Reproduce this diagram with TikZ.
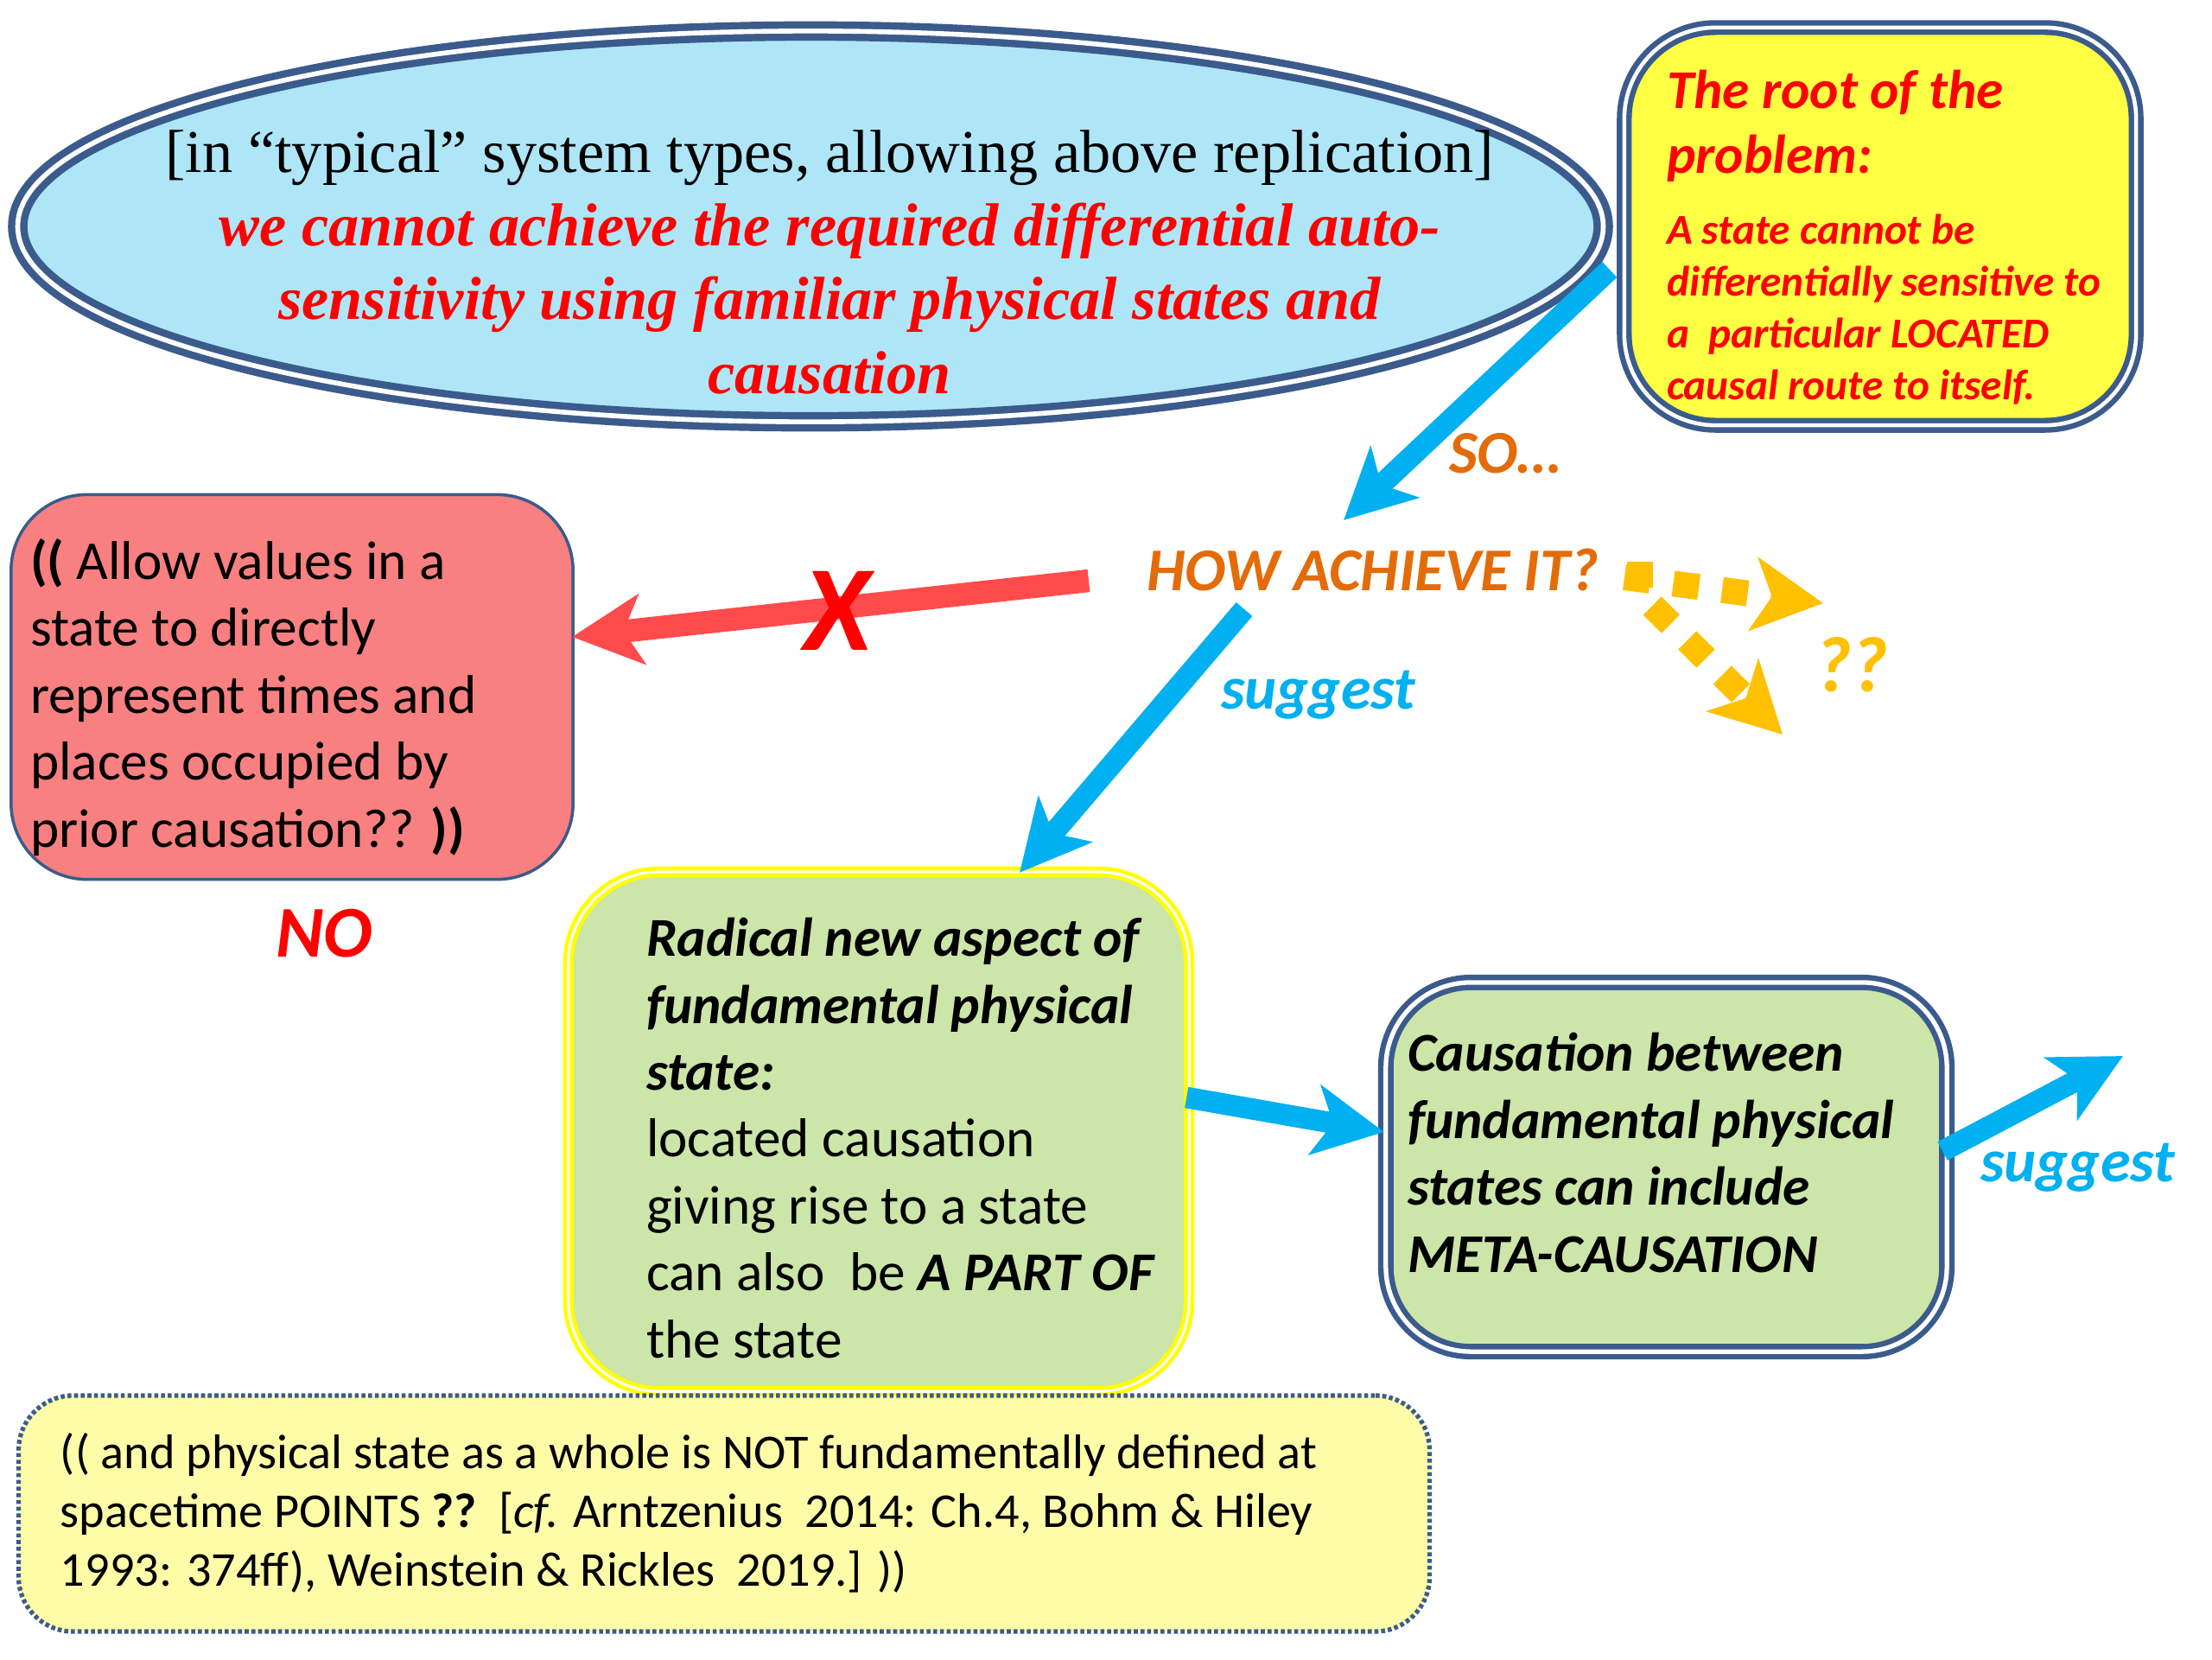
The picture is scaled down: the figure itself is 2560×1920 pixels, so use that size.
\documentclass[tikz,border=0pt]{standalone}
\usepackage{fontspec}
\setmainfont{Carlito}
\newfontfamily\tnr{Liberation Serif}
\usetikzlibrary{arrows.meta,shapes.geometric,calc}
\definecolor{bord}{HTML}{3B5B8C}
\definecolor{skyfill}{HTML}{AEE6F8}
\definecolor{yfill}{HTML}{FFFF44}
\definecolor{pinkfill}{HTML}{F88080}
\definecolor{redarr}{HTML}{FF4B4B}
\definecolor{gfill}{HTML}{CCE5A9}
\definecolor{bfill}{HTML}{FFFCA8}
\definecolor{bluearr}{HTML}{00B0F0}
\definecolor{orangetxt}{HTML}{E36C09}
\definecolor{gold}{HTML}{FFC000}
\definecolor{bright}{HTML}{FFFF00}
\newcommand{\redbi}[1]{{\color{red}\bfseries\itshape #1}}
\newcommand{\bi}[1]{\textbf{\textit{#1}}}
\begin{document}
\begin{tikzpicture}[x=0.01cm,y=-0.01cm,
  every node/.style={inner sep=0pt,outer sep=0pt},
  barrow/.style={draw=bluearr,line width=7pt,-{Stealth[length=23pt,width=23pt,inset=6pt]}},
  rarrow/.style={draw=redarr,line width=7.5pt,-{Stealth[length=23pt,width=23pt,inset=6pt]}},
  garrow/.style={draw=gold,line width=8.5pt,dash pattern=on 8.5pt off 7.7pt,-{Stealth[length=23pt,width=24pt,inset=6pt]}},
  txt/.style={anchor=base west,align=left},
  body/.style={font=\fontsize{18}{22}\selectfont},
  label/.style={anchor=base west,font=\fontsize{20}{24}\selectfont\bfseries\itshape},
]
\useasboundingbox (0,0) rectangle (2560,1920);

% ellipse
\node[ellipse,draw=bord,fill=skyfill,double=white,line width=2.4pt,double distance=1.6pt,
      minimum width=18.34cm,minimum height=4.52cm] (prob) at (938,262) {};
\node[anchor=base,align=center,font=\tnr\fontsize{20}{24.2}\selectfont] (probtxt) at (960,455)
  {[in “typical” system types, allowing above replication]\\
   \redbi{we cannot achieve the required differential auto-}\\
   \redbi{sensitivity using familiar physical states and}\\
   \redbi{causation}};

% root box
\node[rectangle,rounded corners=30pt,draw=bord,fill=yfill,double=white,line width=1.8pt,double distance=1.3pt,
      minimum width=5.92cm,minimum height=4.6cm] (root) at (2176,262) {};
\node[txt,text=red,font=\fontsize{18}{21.3}\selectfont\bfseries\itshape] (roottitle) at (1929,200)
  {The root of the\\problem:};
\node[txt,text=red,font=\fontsize{14}{17}\selectfont\bfseries\itshape] (roottext) at (1929,462)
  {A state cannot be\\differentially sensitive to\\a\ \ particular LOCATED\\causal route to itself.};

% pink box
\node[rectangle,rounded corners=25pt,draw=bord,line width=1pt,fill=pinkfill,
      minimum width=6.5cm,minimum height=4.45cm] (pink) at (338,795) {};
\node[txt,body] (pinktxt) at (35,980)
  {\textbf{((} Allow values in a\\state to directly\\represent times and\\places occupied by\\prior causation?? \textbf{))}};
\node[anchor=base west,text=red,font=\fontsize{24}{28}\selectfont\bfseries\itshape] (no) at (319,1107) {NO};

% green box 1
\node[rectangle,rounded corners=30pt,draw=bright,double=white,line width=1.3pt,double distance=0.9pt,fill=gfill,
      minimum width=7.18cm,minimum height=6.01cm] (g1) at (1017,1309.5) {};
\node[txt,body] (g1txt) at (748,1571)
  {\bi{Radical new aspect of}\\\bi{fundamental physical}\\\bi{state:}\\located causation\\giving rise to a state\\can also\ \ be \bi{A PART OF}\\the state};

% green box 2
\node[rectangle,rounded corners=28pt,draw=bord,double=white,line width=1.8pt,double distance=1.5pt,fill=gfill,
      minimum width=6.49cm,minimum height=4.27cm] (g2) at (1928.5,1350.5) {};
\node[txt,body,font=\fontsize{18}{22}\selectfont\bfseries\itshape] (g2txt) at (1629,1472)
  {Causation between\\fundamental physical\\states can include\\META-CAUSATION};

% bottom note
\node[rectangle,rounded corners=18pt,draw=bord,line width=1.5pt,dash pattern=on 1.3pt off 0.9pt,fill=bfill,
      minimum width=16.32cm,minimum height=2.73cm] (note) at (838,1751.5) {};
\node[txt,font=\fontsize{16}{19.2}\selectfont] (notetxt) at (70,1835)
  {(( and physical state as a whole is NOT fundamentally defined at\\
   spacetime POINTS \textbf{??}\ \ [\textit{cf.} Arntzenius\ \ 2014: Ch.4, Bohm \& Hiley\\
   1993: 374ff), Weinstein \& Rickles\ \ 2019.] ))};

% labels
\node[label,text=orangetxt] (how) at (1327,683) {HOW ACHIEVE IT?};
\node[label,text=orangetxt] (so) at (1677,547) {SO…};
\node[label,text=bluearr] (sugg1) at (1413,820) {suggest};
\node[label,text=bluearr] (sugg2) at (2292,1367) {suggest};
\node[label,text=gold,font=\fontsize{26}{30}\selectfont\bfseries\itshape] (qq) at (2100,800) {??};

% free ends
\coordinate (s2end) at (2457,1222);
\coordinate (gold1end) at (2110,698);
\coordinate (gold2end) at (2063,850);

% arrows
\draw[barrow] ($(root.west)+(-17,50)$) -- ($(how.base west)+(228,-81)$);
\draw[barrow] ($(how.base west)+(113,22)$) -- ($(g1.north)+(163,1)$);
\draw[barrow] ($(g1.east)+(-3,-39.5)$) -- ($(g2.west)+(-2,-40.5)$);
\draw[barrow] ($(g2.east)+(-5,-18.5)$) -- (s2end);
\draw[rarrow] ($(how.base west)+(-67,-11)$) -- ($(pink.east)+(-1,-58)$);
\draw[garrow] ($(how.base west)+(553,-15)$) -- (gold1end);
\draw[garrow] ($(how.base west)+(571,-33)$) -- ++(0,37) -- (gold2end);

\node[anchor=base west,text=red,font=\fontsize{40}{44}\selectfont\bfseries\itshape] (x) at (930,752) {X};
\end{tikzpicture}
\end{document}
